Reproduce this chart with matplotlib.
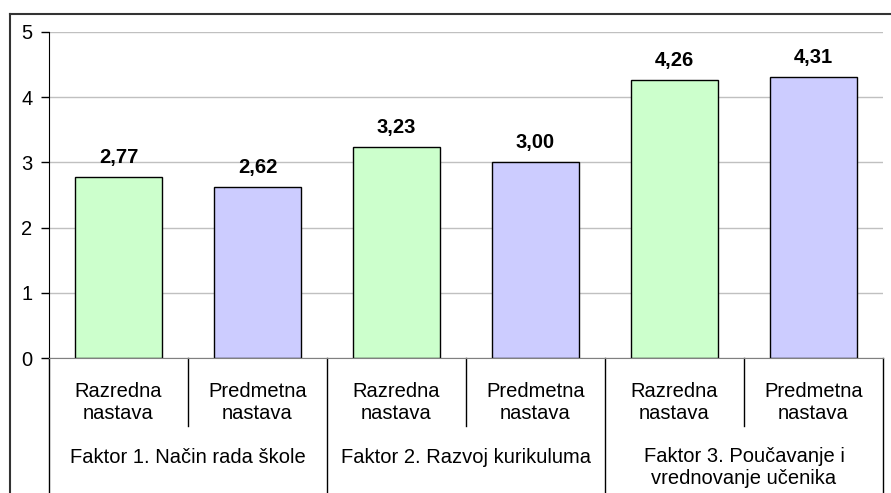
import matplotlib.pyplot as plt
from matplotlib.lines import Line2D

plt.rcParams['font.family'] = ['Liberation Sans', 'DejaVu Sans']

sub_labels = ['Razredna\nnastava', 'Predmetna\nnastava'] * 3
factors = ['Faktor 1. Način rada škole', 'Faktor 2. Razvoj kurikuluma',
           'Faktor 3. Poučavanje i\nvrednovanje učenika']
values = [2.77, 2.62, 3.23, 3.00, 4.26, 4.31]
colors = ['#ccffcc', '#ccccff'] * 3

fig = plt.figure(figsize=(8.91, 4.93), dpi=100)
ax = fig.add_axes([0.055, 0.2738, 0.936, 0.6613])

x = list(range(len(values)))
bars = ax.bar(x, values, width=0.62, color=colors, edgecolor='black', linewidth=1, zorder=3)
for xi, v in zip(x, values):
    ax.annotate(f'{v:.2f}'.replace('.', ','), (xi, v), xytext=(0, 14), textcoords='offset points',
                ha='center', va='center', fontsize=14.5, fontweight='bold')

ax.set_xlim(-0.5, 5.5)
ax.set_ylim(0, 5)
ax.set_yticks(range(6))
ax.tick_params(axis='y', labelsize=14.5, length=6, width=1, pad=6)
ax.set_xticks([])
ax.yaxis.grid(True, color='#c0c0c0', linewidth=1, zorder=0)
for s in ['top', 'right']:
    ax.spines[s].set_visible(False)
ax.spines['left'].set_color('black')
ax.spines['bottom'].set_color('#808080')
ax.spines['bottom'].set_zorder(4)

tr = ax.get_xaxis_transform()
# sub-category labels and separators
for xi, lab in zip(x, sub_labels):
    ax.text(xi, -0.1365, lab, transform=tr, ha='center', va='center', fontsize=14.5, linespacing=1.2)
for b in [0.5, 2.5, 4.5]:
    ax.plot([b, b], [0, -0.21], transform=tr, color='black', lw=1, clip_on=False)
for b in [-0.5, 1.5, 3.5, 5.5]:
    ax.plot([b, b], [0, -0.45], transform=tr, color='black', lw=1, clip_on=False)
for gi, lab in enumerate(factors):
    ypos = -0.336 if '\n' in lab else -0.3037
    ax.text(2 * gi + 0.5, ypos, lab, transform=tr, ha='center', va='center', fontsize=14.5, linespacing=1.15)

# outer chart frame
fig.add_artist(Line2D([0.0115, 1.0], [0.9716, 0.9716], color='#333333', lw=1.5))
fig.add_artist(Line2D([0.0115, 0.0115], [0.0, 0.9716], color='#333333', lw=1.5))

fig.savefig('out.png', dpi=100)
